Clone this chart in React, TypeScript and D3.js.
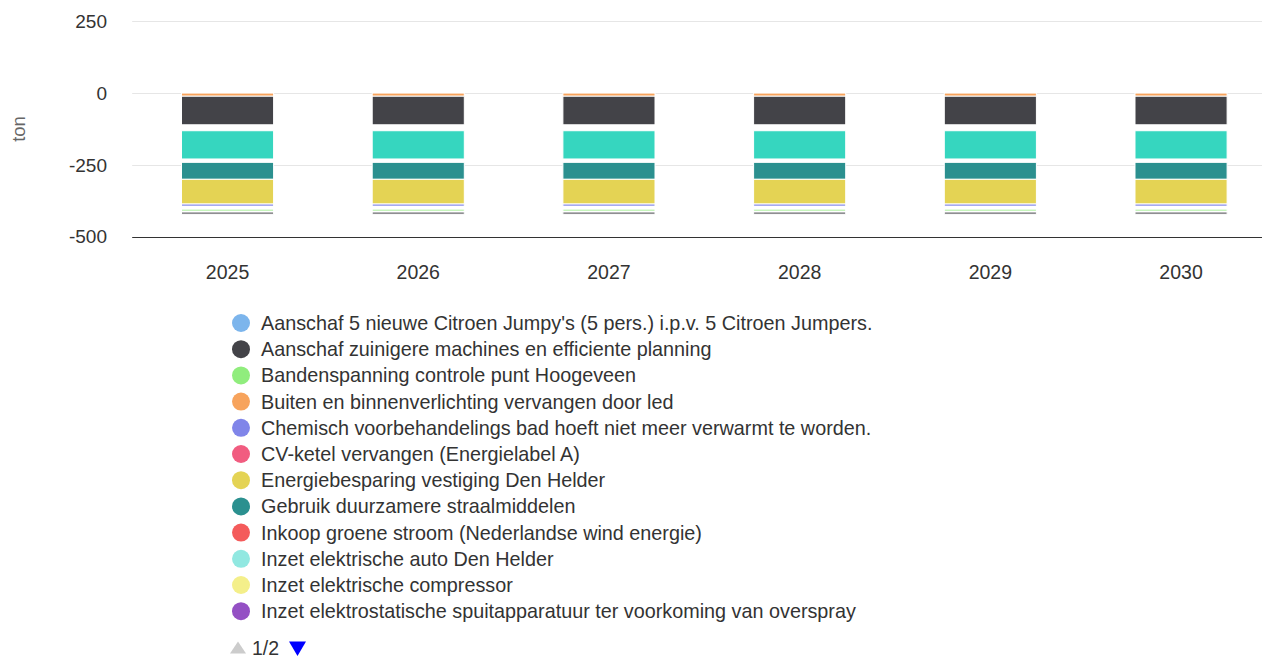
import React from 'react';
import * as d3 from 'd3';

const years = ['2025', '2026', '2027', '2028', '2029', '2030'];
const yTicks = [250, 0, -250, -500];
const yAxisTitle = 'ton';

const legendNames = [
  "Aanschaf 5 nieuwe Citroen Jumpy's (5 pers.) i.p.v. 5 Citroen Jumpers.",
  'Aanschaf zuinigere machines en efficiente planning',
  'Bandenspanning controle punt Hoogeveen',
  'Buiten en binnenverlichting vervangen door led',
  'Chemisch voorbehandelings bad hoeft niet meer verwarmt te worden.',
  'CV-ketel vervangen (Energielabel A)',
  'Energiebesparing vestiging Den Helder',
  'Gebruik duurzamere straalmiddelen',
  'Inkoop groene stroom (Nederlandse wind energie)',
  'Inzet elektrische auto Den Helder',
  'Inzet elektrische compressor',
  'Inzet elektrostatische spuitapparatuur ter voorkoming van overspray',
];
const legendColors = [
  '#7cb5ec', '#434348', '#90ed7d', '#f7a35c', '#8085e9', '#f15c80',
  '#e4d354', '#2b908f', '#f45b5b', '#91e8e1', '#f4ef8a', '#9450c4',
];
const pagerText = '1/2';

// Stack segments, from zero downwards (values in ton per year)
const buitenVerlichting = [-11, -11, -11, -11, -11, -11];
const zuinigereMachines = [-100, -100, -100, -100, -100, -100];
const page2SeriesA = [-20, -20, -20, -20, -20, -20];
const page2SeriesB = [-99, -99, -99, -99, -99, -99];
const page2SeriesC = [-11, -11, -11, -11, -11, -11];
const duurzamereStraalmiddelen = [-59, -59, -59, -59, -59, -59];
const energiebesparingDenHelder = [-86, -86, -86, -86, -86, -86];
const chemischBad = [-8, -8, -8, -8, -8, -8];
const page2SeriesD = [-10, -10, -10, -10, -10, -10];
const bandenspanning = [-7, -7, -7, -7, -7, -7];
const page2SeriesE = [-3, -3, -3, -3, -3, -3];
const page2SeriesF = [-7, -7, -7, -7, -7, -7];

const stackSeries = [
  buitenVerlichting, zuinigereMachines, page2SeriesA, page2SeriesB, page2SeriesC,
  duurzamereStraalmiddelen, energiebesparingDenHelder, chemischBad, page2SeriesD,
  bandenspanning, page2SeriesE, page2SeriesF,
];
const stackColors = [
  '#f7a35c', '#434348', '#ffffff', '#36d6bf', '#ffffff',
  '#2b908f', '#e4d354', '#8085e9', '#ffffff',
  '#90ed7d', '#ffffff', '#434348',
];

export default function App() {
  const W = 1290;
  const H = 659;
  const plotLeft = 132.2;
  const plotRight = 1276.4;
  const x = d3.scaleBand<string>().domain(years).range([plotLeft, plotRight]).paddingInner(0.517).paddingOuter(0.2585);
  const y = d3.scaleLinear().domain([-500, 250]).range([236.8, 21.2]);

  const rects: React.ReactNode[] = [];
  years.forEach((yr, i) => {
    let acc = 0;
    stackSeries.forEach((s, k) => {
      const v = s[i];
      const y0 = y(acc);
      const y1 = y(acc + v);
      acc += v;
      rects.push(
        <rect key={`${yr}-${k}`} x={x(yr)} y={Math.min(y0, y1)} width={x.bandwidth()} height={Math.abs(y1 - y0)}
          fill={stackColors[k]} stroke="#ffffff" strokeWidth={1} />
      );
    });
  });

  const font = '"Liberation Sans", Arial, Helvetica, sans-serif';
  const legendX = 241;
  const legendY0 = 323;
  const legendStep = 26.2;

  return (
    <div style={{ position: 'fixed', left: 0, top: 0, width: 1262, height: 659, overflow: 'hidden', background: '#fff' }}>
      <svg width={W} height={H} style={{ fontFamily: font, display: 'block' }}>
        <rect x={0} y={0} width={W} height={H} fill="#ffffff" />
        {yTicks.filter(t => t !== -500).map(t => (
          <line key={t} x1={plotLeft} x2={W} y1={Math.round(y(t)) + 0.5} y2={Math.round(y(t)) + 0.5} stroke="#e6e6e6" strokeWidth={1} />
        ))}
        {yTicks.map(t => (
          <text key={t} x={107} y={y(t)} dy="0.35em" textAnchor="end" fontSize={19} fill="#333333">{t}</text>
        ))}
        <text transform={`translate(25,129) rotate(-90)`} textAnchor="middle" fontSize={18.5} fill="#666666">{yAxisTitle}</text>
        {rects}
        <line x1={plotLeft} x2={W} y1={Math.round(y(-500)) + 0.5} y2={Math.round(y(-500)) + 0.5} stroke="#333333" strokeWidth={1} />
        {years.map(yr => (
          <text key={yr} x={(x(yr) as number) + x.bandwidth() / 2} y={278.5} textAnchor="middle" fontSize={19.5} fill="#333333">{yr}</text>
        ))}
        {legendNames.map((n, i) => (
          <g key={n} transform={`translate(0,${legendY0 + i * legendStep})`}>
            <circle cx={legendX} cy={0} r={9} fill={legendColors[i]} />
            <text x={261} y={0} dy="0.35em" fontSize={19.8} fill="#333333">{n}</text>
          </g>
        ))}
        <path d="M230,653.5 L246,653.5 L238,641.5 Z" fill="#cccccc" />
        <text x={252} y={654.5} fontSize={19.5} fill="#333333">{pagerText}</text>
        <path d="M289,641.5 L306,641.5 L297.5,656 Z" fill="#0000ff" />
      </svg>
    </div>
  );
}
